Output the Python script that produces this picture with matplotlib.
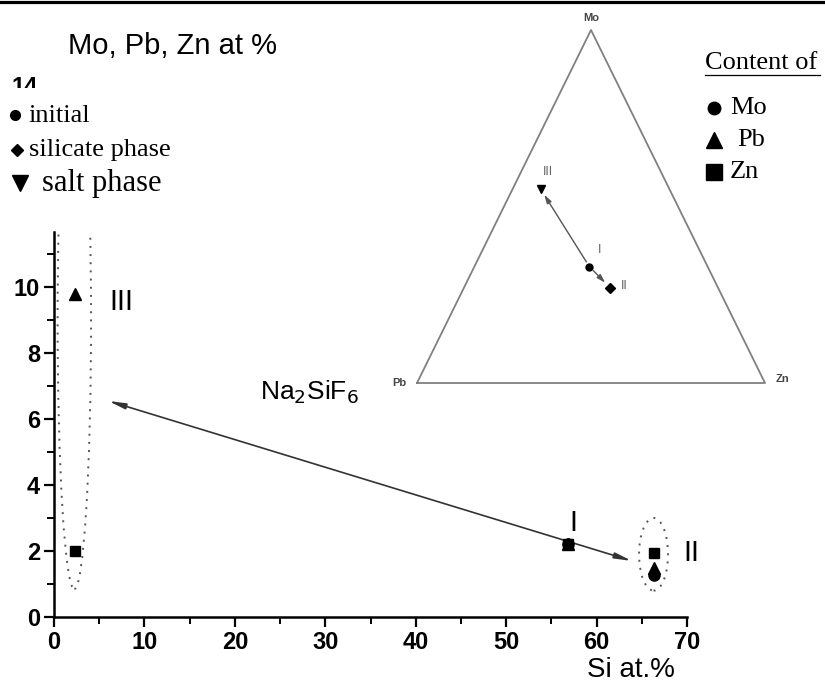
import numpy as np
import matplotlib
matplotlib.use("Agg")
import matplotlib.pyplot as plt
from matplotlib.lines import Line2D
from matplotlib.patches import Ellipse, Rectangle

plt.rcParams['font.family'] = ['Liberation Sans', 'DejaVu Sans']

# main plot: Si content vs metal content for samples III, I, II
samples = ['III', 'I', 'II']
si = [2.3, 56.8, 66.4]
mo = [np.nan, 2.2, 1.27]
pb = [9.8, 2.2, 1.48]
zn = [2.0, 2.2, 1.94]

# ternary inset (Mo, Pb, Zn fractions, %)
tern_mo = [55, 33, 27]
tern_pb = [37, 34, 31]
tern_zn = [8, 33, 42]
tern_markers = ['v', 'o', 'D']

W, H = 825, 684


def fx(px):
    return px / W


def fy(py):
    return 1 - py / H


def tern_xy(m, p, z):
    'Mo at top, Pb bottom-left, Zn bottom-right.'
    s = m + p + z
    return z / s + 0.5 * m / s, m / s


fig = plt.figure(figsize=(8.25, 6.84), dpi=100)

ax = fig.add_axes([fx(54), fy(617), fx(687) - fx(54), fy(232) - fy(617)])
ax.set_xlim(0, 70)
ax.set_ylim(0, 11.67)
for side in ['top', 'right']:
    ax.spines[side].set_visible(False)
for side in ['left', 'bottom']:
    ax.spines[side].set_linewidth(1.8)
ax.set_xticks(range(0, 71, 10))
ax.set_xticks(range(5, 70, 10), minor=True)
ax.set_yticks(range(0, 11, 2))
ax.set_yticks(range(1, 12, 2), minor=True)
ax.tick_params(which='major', length=7, width=1.6, direction='out', labelsize=17, pad=3)
ax.tick_params(which='minor', length=5, width=1.4, direction='out')
for lab in ax.get_xticklabels() + ax.get_yticklabels():
    lab.set_fontweight('bold')

ax.plot(si, zn, 's', color='black', ms=7, zorder=4)
ax.plot(si, mo, 'o', color='black', ms=8, zorder=4)
ax.plot(si, pb, '^', color='black', ms=9, zorder=4)

ax.annotate('', xy=(6.0, 6.55), xytext=(63.9, 1.7),
            arrowprops=dict(arrowstyle='<|-|>,head_length=1.0,head_width=0.17',
                            color='#333333', lw=1.2, shrinkA=0, shrinkB=0))

dots = (0, (1, 3.2))
ax.add_patch(Ellipse((2.25, 9.0), 3.7, 16.3, fill=False, ec='#555555',
                     lw=1.4, ls=dots))
ax.add_patch(Ellipse((66.3, 1.9), 3.2, 2.2, fill=False, ec='#555555',
                     lw=1.4, ls=dots))

ax.text(7.5, 9.55, 'III', fontsize=21, ha='center', va='center')
ax.text(57.4, 2.85, 'I', fontsize=21, ha='center', va='center')
ax.text(70.5, 1.95, 'II', fontsize=21, ha='center', va='center')
ax.text(28.3, 6.8, 'Na$_2$SiF$_6$', fontsize=19, ha='center', va='center')

fig.text(fx(631), fy(670), 'Si at.%', fontsize=20, ha='center', va='center')
fig.text(fx(172), fy(46), 'Mo, Pb, Zn at %', fontsize=21, ha='center', va='center')

# clipped "14" peeking above the legend
fig.text(fx(25), fy(76), '14', fontsize=17, fontweight='bold', ha='center', va='top')
fig.add_artist(Rectangle((0, fy(200)), fx(200), fy(88) - fy(200),
                         transform=fig.transFigure, fc='white', ec='none', zorder=5))

# left legend
serif = ['Liberation Serif', 'DejaVu Serif']
leg = [('o', 7, fx(15), fy(115), 'initial', fx(28), fy(116), 19),
       ('D', 6, fx(17), fy(150), 'silicate phase', fx(29), fy(150), 19),
       ('v', 12, fx(20), fy(183), 'salt phase', fx(42), fy(184), 22)]
for mk, ms, mx, my, txt, tx, ty, fs in leg:
    fig.add_artist(Line2D([mx], [my], marker=mk, ms=ms, color='black',
                          transform=fig.transFigure, zorder=6))
    fig.text(tx, ty, txt, fontsize=fs, family=serif, ha='left', va='center', zorder=6)

# right legend
fig.text(fx(705), fy(63), 'Content of', fontsize=19, family=serif,
         ha='left', va='center')
fig.add_artist(Line2D([fx(705), fx(820)], [fy(75), fy(75)], color='black',
                      lw=0.9, transform=fig.transFigure))
leg2 = [('o', 9, fy(108), 'Mo', fx(730)),
        ('^', 11, fy(140), 'Pb', fx(737)),
        ('s', 11, fy(172), 'Zn', fx(730))]
for mk, ms, my, txt, tx in leg2:
    fig.add_artist(Line2D([fx(714)], [my], marker=mk, ms=ms, color='black',
                          transform=fig.transFigure))
    fig.text(tx, my, txt, fontsize=19, family=serif, ha='left', va='center')

# ternary inset
tax = fig.add_axes([fx(417), fy(383), fx(765) - fx(417), fy(30) - fy(383)])
tax.set_xlim(0, 1)
tax.set_ylim(0, 1)
tax.axis('off')
tax.plot([0, 1, 0.5, 0], [0, 0, 1, 0], color='#808080', lw=1.3, clip_on=False)
tax.text(0.5, 1.02, 'Mo', fontsize=8, fontweight='bold', color='#444444',
         ha='center', va='bottom')
tax.text(-0.03, 0.0, 'Pb', fontsize=8, fontweight='bold', color='#444444',
         ha='right', va='center')
tax.text(1.03, 0.01, 'Zn', fontsize=8, fontweight='bold', color='#444444',
         ha='left', va='center')

pts = [tern_xy(m, p, z) for m, p, z in zip(tern_mo, tern_pb, tern_zn)]
for (x, y), mk in zip(pts, tern_markers):
    tax.plot(x, y, mk, color='black', ms=5 if mk != 'v' else 6, clip_on=False)
for target in (0, 2):
    tax.annotate('', xy=pts[target], xytext=pts[1],
                 arrowprops=dict(arrowstyle='-|>,head_length=0.5,head_width=0.15',
                                 color='#555555', lw=1.0, shrinkA=4, shrinkB=5))
tax.text(pts[0][0] + 0.02, pts[0][1] + 0.03, 'III', fontsize=9, color='#666666',
         ha='center', va='bottom')
tax.text(pts[1][0] + 0.025, pts[1][1] + 0.03, 'I', fontsize=9, color='#666666',
         ha='left', va='bottom')
tax.text(pts[2][0] + 0.03, pts[2][1] + 0.005, 'II', fontsize=9, color='#666666',
         ha='left', va='center')

# black rule along the top edge
fig.add_artist(Line2D([0, 1], [fy(1.5), fy(1.5)], color='black', lw=2.3,
                      transform=fig.transFigure))

fig.savefig('out.png', dpi=100)
